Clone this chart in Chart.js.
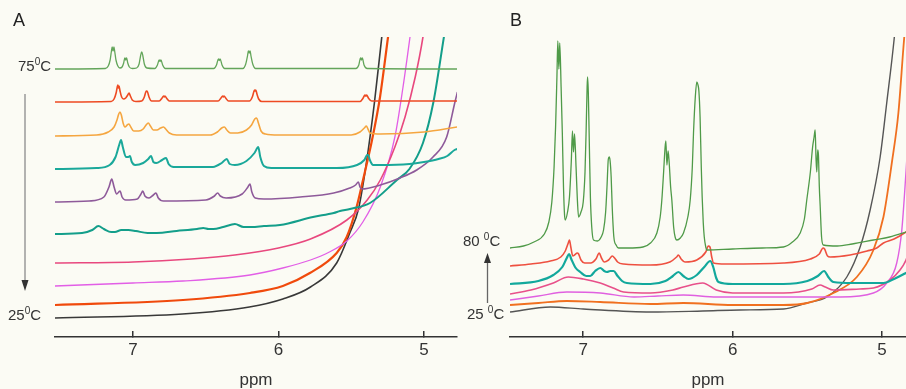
<!DOCTYPE html>
<html>
<head>
<meta charset="utf-8">
<script src="https://cdn.jsdelivr.net/npm/chart.js@4/dist/chart.umd.min.js"></script>
<style>
  body { margin: 0; background: #fbfbf4; font-family: "Liberation Sans", Arial, sans-serif; color: #333; }
  #wrap { position: relative; width: 906px; height: 389px; overflow: hidden; }
  .box { position: absolute; top: 0; height: 389px; }
  .lbl { position: absolute; font-size: 15px; line-height: 15px; white-space: nowrap; color: #333; }
  .lbl sup { font-size: 10px; vertical-align: 6px; line-height: 0; }
  .pan { position: absolute; font-size: 18px; line-height: 18px; color: #222; }
</style>
</head>
<body>
<div id="wrap">
  <div class="box" style="left:0;width:462px"><canvas id="chartA" width="462" height="389"></canvas></div>
  <div class="box" style="left:462px;width:444px"><canvas id="chartB" width="444" height="389"></canvas></div>
  <div class="pan" style="left:13px;top:11px">A</div>
  <div class="pan" style="left:510px;top:11px">B</div>
  <div class="lbl" style="left:18px;top:58px">75<sup>0</sup>C</div>
  <div class="lbl" style="left:8px;top:307px">25<sup>0</sup>C</div>
  <div class="lbl" style="left:463px;top:233px">80 <sup>0</sup>C</div>
  <div class="lbl" style="left:467px;top:306px">25 <sup>0</sup>C</div>
  <svg style="position:absolute;left:0;top:0" width="906" height="389">
    <line x1="25" y1="94" x2="25" y2="282" stroke="#9a9a9a" stroke-width="1.5"/>
    <polygon points="21.5,280 28.5,280 25,291" fill="#333"/>
    <line x1="487.5" y1="303" x2="487.5" y2="262" stroke="#666" stroke-width="1.3"/>
    <polygon points="484,263 491,263 487.5,253" fill="#333"/>
  </svg>
</div>
<script>
// ppm ticks
var ticksA = [7, 6, 5];
var ticksB = [7, 6, 5];

// ---- panel A, 75C (top) down to 25C (bottom): [ppm, intensity]
var a75 = [[7.54,268],[7.19,268.5],[7.17,271],[7.157,277],[7.148,286],[7.143,290],[7.137,286],[7.131,290],[7.126,286],[7.117,277],[7.104,271],[7.09,269],
  [7.075,270],[7.064,274],[7.056,279],[7.05,277],[7.044,279],[7.036,274],[7.025,270],[7.005,268.5],
  [6.975,269],[6.958,273],[6.948,281],[6.94,285],[6.932,281],[6.922,273],[6.905,269],
  [6.85,268.5],[6.832,272],[6.82,277],[6.814,275.5],[6.808,277],[6.796,272],[6.778,268.5],
  [6.445,268.5],[6.426,272],[6.413,278],[6.407,276.5],[6.401,278],[6.388,272],[6.37,268.5],
  [6.245,268.5],[6.225,273],[6.213,281],[6.207,286],[6.201,284],[6.195,286],[6.189,281],[6.177,273],[6.157,268.5],
  [5.468,268.5],[5.448,272],[5.436,279],[5.43,277],[5.424,279],[5.412,272],[5.39,268.5],[4.77,268]];
var a70 = [[7.54,235],[7.15,235.5],[7.13,238],[7.116,244],[7.108,250],[7.104,252],[7.1,249],[7.096,251],[7.089,246],[7.078,240],[7.065,238],
  [7.05,239],[7.036,242],[7.027,244],[7.018,241],[7.005,237],[6.98,235.5],
  [6.94,236],[6.922,240],[6.912,245],[6.906,246],[6.9,245],[6.89,240],[6.872,236],
  [6.82,236],[6.8,239],[6.79,241],[6.785,240],[6.78,241],[6.77,239],[6.75,236],
  [6.415,236],[6.395,239],[6.384,241],[6.379,240],[6.374,241],[6.363,239],[6.343,236],
  [6.2,236],[6.18,240],[6.168,246],[6.164,247],[6.16,246],[6.156,247],[6.148,243],[6.136,238],[6.115,235.5],
  [5.44,235.5],[5.418,239],[5.406,242],[5.4,241],[5.394,242],[5.382,239],[5.36,236],[4.77,236]];
var a65 = [[7.54,201],[7.25,202],[7.17,205],[7.13,210],[7.11,217],[7.098,223],[7.089,225],[7.08,222],[7.068,214],[7.055,210],[7.04,212],[7.028,213],[7.015,210],[6.995,206],
  [6.96,206],[6.93,208],[6.91,212],[6.895,214],[6.88,211],[6.86,207],[6.835,207],[6.81,209],[6.79,210],[6.775,208],[6.75,204],[6.7,202],
  [6.47,202],[6.42,205],[6.39,209],[6.372,210],[6.355,207],[6.33,204],[6.28,204],[6.22,207],[6.185,212],[6.163,218],[6.15,219],[6.138,214],[6.12,206],[6.09,203],[6.0,202],
  [5.5,202],[5.44,205],[5.41,209],[5.396,211],[5.385,208],[5.37,204],[5.3,203],[5.0,205],[4.77,210]];
var a60 = [[7.54,168],[7.25,169],[7.16,172],[7.12,180],[7.095,192],[7.082,197],[7.07,190],[7.048,180],[7.032,180],[7.021,181],[7.008,175],[6.985,172],
  [6.93,174],[6.895,178],[6.876,181],[6.86,175],[6.84,174],[6.8,177],[6.773,179],[6.755,173],[6.72,170],
  [6.45,170],[6.39,174],[6.356,178],[6.335,173],[6.3,172],[6.22,176],[6.165,184],[6.139,190],[6.125,180],[6.1,171],[6.05,169],
  [5.6,169],[5.46,172],[5.41,177],[5.39,182],[5.383,182],[5.372,177],[5.35,172],[5.3,172],[5.1,173],[5.0,175],[4.9,178],[4.84,181],[4.79,187],[4.77,188]];
var a55 = [[7.54,135],[7.3,136],[7.2,140],[7.165,150],[7.146,158],[7.13,150],[7.112,143],[7.098,145],[7.089,146],[7.075,140],[7.05,137],
  [6.97,138],[6.945,143],[6.933,146],[6.918,141],[6.89,139],[6.86,142],[6.842,144],[6.826,139],[6.79,136],
  [6.5,137],[6.44,141],[6.418,144],[6.4,141],[6.36,139],[6.25,143],[6.21,150],[6.196,153],[6.183,145],[6.16,139],[6.1,138],
  [5.85,140],[5.62,144],[5.51,149],[5.47,152],[5.451,155],[5.44,150],[5.428,148],[5.3,152],[5.165,159],[5.05,167],[4.938,180],[4.844,200],[4.787,235],[4.77,245]];
var a50 = [[7.54,103],[7.35,104],[7.28,107],[7.238,111],[7.2,108],[7.15,105],[7.124,105],[7.08,107],[7.032,107],[6.98,106],[6.9,104],[6.837,104],
  [6.7,106],[6.56,108],[6.517,109],[6.48,108],[6.448,108],[6.38,110],[6.299,113],[6.24,110],[6.184,110],[6.1,111],[5.99,112],
  [5.763,120],[5.62,124],[5.577,126],[5.509,128],[5.371,134],[5.186,157],[5.1,168],[5.007,194],[4.935,235],[4.863,300],[4.83,330]];
var a45 = [[7.54,74],[7.0,75],[6.6,78],[6.3,82],[6.0,89],[5.78,98],[5.53,117],[5.39,137],[5.3,157],[5.2,190],[5.13,220],[5.06,260],[5.007,300],[4.97,340]];
var a40 = [[7.54,51],[7.0,54],[6.656,56],[6.196,62],[5.97,69],[5.78,77],[5.65,85],[5.53,96],[5.42,115],[5.3,150],[5.2,200],[5.144,250],[5.096,300],[5.06,340]];
var a30 = [[7.54,32],[6.656,37],[6.196,44],[5.97,51],[5.784,64],[5.6,84],[5.531,100],[5.463,130],[5.419,157],[5.357,197],[5.302,240],[5.247,300],[5.21,340]];
var a25 = [[7.54,19],[6.66,23],[6.2,30],[5.97,38],[5.78,50],[5.6,74],[5.51,104],[5.45,128],[5.4,170],[5.34,235],[5.29,300],[5.25,350]];

// ---- panel B, 80C (top) down to 25C (bottom)
var b80 = [[7.49,89],[7.4,91],[7.33,95],[7.26,103],[7.23,115],[7.21,135],[7.195,170],[7.185,210],[7.176,260],[7.17,296],[7.163,268],[7.157,294],[7.148,250],[7.14,205],[7.132,150],[7.125,122],[7.12,117],
  [7.105,125],[7.092,140],[7.08,175],[7.072,206],[7.065,185],[7.058,203],[7.048,170],[7.04,140],[7.031,120],
  [7.015,125],[7.0,135],[6.988,165],[6.98,210],[6.974,250],[6.971,260],[6.966,245],[6.96,200],[6.952,140],[6.943,110],[6.931,97],
  [6.905,96],[6.88,100],[6.864,107],[6.85,125],[6.841,150],[6.832,178],[6.826,180],[6.82,176],[6.813,160],[6.806,130],[6.795,100],[6.78,92],[6.764,89],
  [6.7,89],[6.6,90],[6.55,94],[6.507,104],[6.485,120],[6.474,137],[6.462,165],[6.452,190],[6.447,196],[6.44,172],[6.432,186],[6.425,175],[6.415,150],[6.407,137],[6.395,110],[6.385,100],[6.373,97],
  [6.35,99],[6.329,104],[6.3,120],[6.284,137],[6.27,170],[6.262,204],[6.25,240],[6.24,255],[6.232,252],[6.226,246],[6.218,220],[6.21,170],[6.204,140],[6.197,115],[6.19,100],[6.18,90],[6.173,87],
  [6.0,88],[5.8,89],[5.66,90],[5.6,95],[5.548,104],[5.52,118],[5.504,137],[5.48,165],[5.465,190],[5.455,200],[5.448,207],[5.442,178],[5.437,165],[5.431,187],[5.426,182],[5.42,150],[5.414,130],[5.405,100],[5.393,92],
  [5.3,91],[5.2,93],[5.058,97],[4.95,100],[4.84,105],[4.8,107]];
var b70 = [[7.49,71],[7.35,73],[7.22,76],[7.15,80],[7.12,86],[7.1,94],[7.092,97],[7.083,90],[7.07,81],[7.058,82],[7.04,84],[7.031,83],[7.015,77],[6.99,74],
  [6.95,74],[6.915,78],[6.893,84],[6.878,79],[6.86,75],[6.83,77],[6.805,81],[6.79,79],[6.77,75],[6.73,73],
  [6.55,72],[6.42,75],[6.375,80],[6.363,82],[6.345,78],[6.318,75],[6.24,77],[6.18,85],[6.163,91],[6.152,90],[6.14,80],[6.128,74],[6.05,73],
  [5.66,74],[5.48,78],[5.42,83],[5.395,89],[5.385,88],[5.365,81],[5.348,80],[5.214,82],[5.1,86],[5.036,89],[4.991,94],[4.92,98],[4.84,105],[4.8,110]];
var b60 = [[7.49,53],[7.3,56],[7.2,62],[7.14,70],[7.11,79],[7.094,83],[7.08,78],[7.05,69],[7.02,65],[6.98,61],[6.953,61],[6.92,66],[6.886,69],[6.86,66],[6.841,65],[6.82,66],[6.797,66],[6.77,61],[6.74,56],[6.708,54],
  [6.55,53],[6.45,56],[6.4,61],[6.363,65],[6.33,61],[6.296,58],[6.24,62],[6.19,70],[6.15,76],[6.13,70],[6.11,59],[6.095,55],[6.0,53],
  [5.66,53],[5.5,56],[5.43,61],[5.388,66],[5.36,60],[5.326,55],[5.2,54],[4.991,54],[4.92,58],[4.84,64],[4.8,67]];
var b50 = [[7.49,43],[7.35,47],[7.2,54],[7.1,60],[7.0,58],[6.886,54],[6.8,49],[6.73,45],[6.55,44],[6.4,47],[6.33,50],[6.2,54],[6.11,47],[6.0,44],
  [5.66,44],[5.47,48],[5.415,52],[5.38,50],[5.326,47],[5.15,48],[5.058,49],[4.947,57],[4.88,67],[4.84,77],[4.8,95]];
var b40 = [[7.49,37],[7.3,41],[7.11,45],[6.886,44],[6.66,40],[6.5,41],[6.33,42],[6.106,40],[5.66,40],[5.281,40],[5.058,44],[4.969,54],[4.902,74],[4.868,107],[4.84,165],[4.8,260]];
var b30 = [[7.49,32],[7.3,34],[7.11,36],[6.886,35],[6.55,33],[6.33,34],[6.0,32],[5.66,32],[5.5,34],[5.326,44],[5.169,60],[5.058,87],[4.991,120],[4.935,174],[4.891,224],[4.857,290],[4.83,340]];
var b25 = [[7.49,25],[7.22,30],[7.0,28],[6.55,25],[6.2,26],[5.95,27],[5.66,28],[5.504,34],[5.37,40],[5.236,60],[5.147,90],[5.08,127],[5.013,180],[4.969,234],[4.92,297],[4.9,330]];

function line(data, color, width) {
    return {
        data: data,
        borderColor: color,
        borderWidth: width,
        pointRadius: 0,
        fill: false,
        cubicInterpolationMode: "monotone"
    };
}

function makeOptions(padLeft, padRight, xmin, xmax, tickVals) {
    return {
        responsive: false,
        animation: false,
        events: [],
        layout: { padding: { left: padLeft, right: padRight, top: 37, bottom: 0 } },
        plugins: { legend: { display: false }, tooltip: { enabled: false } },
        scales: {
            x: {
                type: "linear",
                reverse: true,
                min: xmin,
                max: xmax,
                afterBuildTicks: function (scale) {
                    scale.ticks = tickVals.map(function (v) { return { value: v }; });
                },
                afterFit: function (scale) { scale.height = 52; },
                grid: { drawOnChartArea: false, drawTicks: true, tickLength: -6, color: "#333", lineWidth: 1.5 },
                border: { display: true, color: "#333", width: 1.5 },
                ticks: { color: "#333", padding: 9, font: { family: "Liberation Sans", size: 17 } },
                title: { display: true, text: "ppm", color: "#333", padding: { top: 0, bottom: -2 }, font: { family: "Liberation Sans", size: 17 } }
            },
            y: { display: false, min: 0, max: 300 }
        }
    };
}

new Chart("chartA", {
    type: "line",
    data: {
        datasets: [
            line(a75, "#63a55a", 1.3),
            line(a70, "#ee4a22", 1.6),
            line(a65, "#f5a640", 1.6),
            line(a60, "#1aa89a", 2),
            line(a55, "#8e5a9a", 1.6),
            line(a50, "#139e8a", 2),
            line(a45, "#e8487e", 1.6),
            line(a40, "#e25ee6", 1.3),
            line(a30, "#f04a0c", 2.2),
            line(a25, "#383838", 1.6)
        ]
    },
    options: makeOptions(55, 5, 4.773, 7.536, ticksA)
});

new Chart("chartB", {
    type: "line",
    data: {
        datasets: [
            line(b80, "#4f9a48", 1.3),
            line(b70, "#ee5040", 1.6),
            line(b60, "#12a89c", 2.2),
            line(b50, "#e8508a", 1.6),
            line(b40, "#e060e0", 1.4),
            line(b30, "#f07020", 1.8),
            line(b25, "#555555", 1.4)
        ]
    },
    options: makeOptions(48, 0, 4.84, 7.49, ticksB)
});
</script>
</body>
</html>
